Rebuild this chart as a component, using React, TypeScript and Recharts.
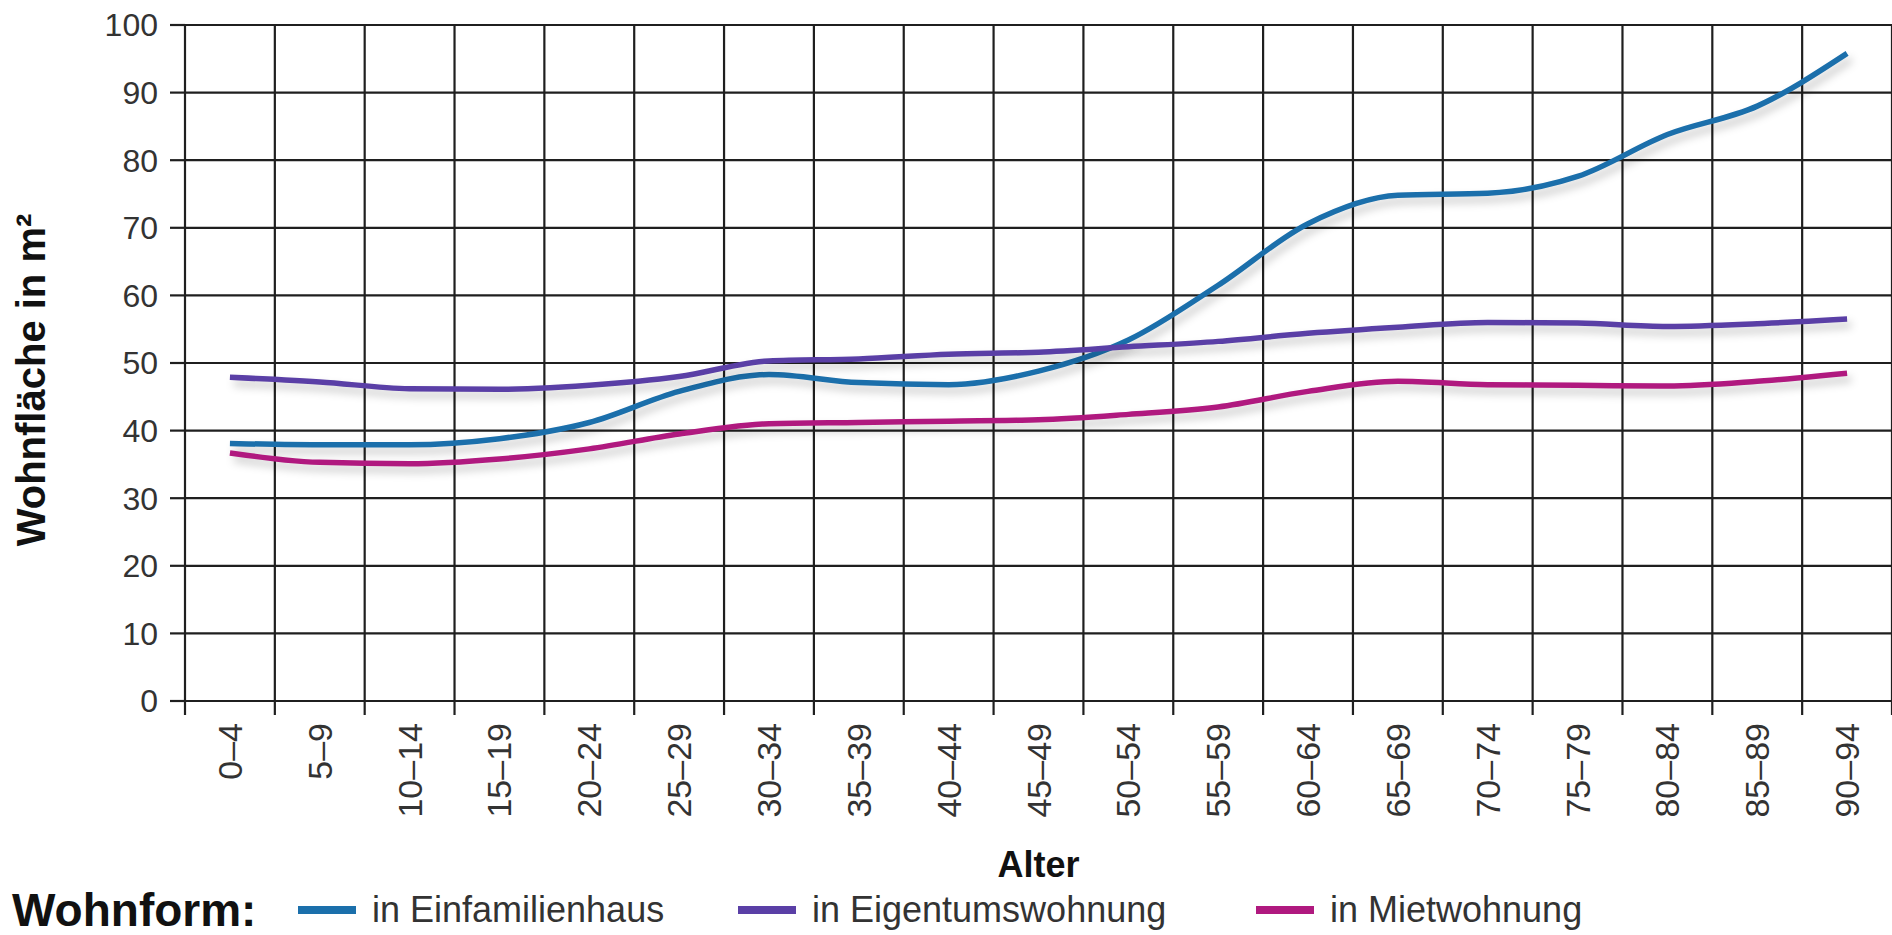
import React from "react";
import { LineChart, Line, XAxis, YAxis, CartesianGrid, Legend, Label } from "recharts";

// Wohnfläche pro Kopf nach Alter und Wohnform (m²)
const AGES = [
  "0–4", "5–9", "10–14", "15–19", "20–24", "25–29", "30–34", "35–39", "40–44", "45–49",
  "50–54", "55–59", "60–64", "65–69", "70–74", "75–79", "80–84", "85–89", "90–94",
];
const EINFAMILIENHAUS = [38.1, 37.9, 37.9, 38.8, 41.2, 45.8, 48.3, 47.1, 46.8, 48.8, 53.4, 61.5, 70.6, 74.8, 75.1, 77.6, 83.8, 88, 95.8];
const EIGENTUMSWOHNUNG = [47.9, 47.2, 46.2, 46.1, 46.7, 48, 50.3, 50.6, 51.3, 51.6, 52.4, 53.2, 54.4, 55.3, 56, 55.9, 55.4, 55.8, 56.5];
const MIETWOHNUNG = [36.7, 35.3, 35.1, 35.8, 37.3, 39.5, 41, 41.2, 41.4, 41.6, 42.4, 43.5, 45.8, 47.3, 46.8, 46.7, 46.6, 47.3, 48.5];
const Y_TICKS = [0, 10, 20, 30, 40, 50, 60, 70, 80, 90, 100];

const SERIES = [
  { key: "efh", name: "in Einfamilienhaus", color: "#1b6fab", values: EINFAMILIENHAUS },
  { key: "etw", name: "in Eigentumswohnung", color: "#5a3fa6", values: EIGENTUMSWOHNUNG },
  { key: "mw", name: "in Mietwohnung", color: "#b0197f", values: MIETWOHNUNG },
];

const data = AGES.map((age, i) => ({
  age,
  pos: i + 0.5,
  efh: EINFAMILIENHAUS[i],
  etw: EIGENTUMSWOHNUNG[i],
  mw: MIETWOHNUNG[i],
}));

const CHART_W = 1892;
const CHART_H = 935;
const Y_AXIS_W = 185;
const COL_W = (CHART_W - Y_AXIS_W) / AGES.length;
const FONT = "'Liberation Sans', Arial, Helvetica, sans-serif";
const GRID = "#1f1f1f";

function AgeTick(props: any) {
  const { x, y, payload } = props;
  const label = AGES[payload.value];
  if (!label) return null;
  const cx = x + COL_W / 2;
  return (
    <text
      x={cx}
      y={y}
      transform={`rotate(-90, ${cx}, ${y})`}
      textAnchor="end"
      dominantBaseline="central"
      fontSize={34}
      fontFamily={FONT}
      fill="#333"
    >
      {label}
    </text>
  );
}

function YTitle(props: any) {
  const { viewBox } = props;
  const cx = 31;
  const cy = viewBox.y + viewBox.height / 2 + 17;
  return (
    <text
      x={cx}
      y={cy}
      transform={`rotate(-90, ${cx}, ${cy})`}
      textAnchor="middle"
      dominantBaseline="central"
      fontSize={40}
      fontWeight="bold"
      fontFamily={FONT}
      fill="#111"
    >
      Wohnfläche in m²
    </text>
  );
}

const ITEM_WIDTHS = [440, 518, 420];

function WohnformLegend() {
  return (
    <div style={{ display: "flex", alignItems: "center", height: 50, fontFamily: FONT }}>
      <span style={{ fontSize: 46, fontWeight: "bold", color: "#111", marginLeft: 12, width: 286 }}>Wohnform:</span>
      {SERIES.map((s, i) => (
        <span key={s.key} style={{ display: "flex", alignItems: "center", width: ITEM_WIDTHS[i] }}>
          <span style={{ display: "inline-block", width: 58, height: 8, background: s.color, marginRight: 16 }} />
          <span style={{ fontSize: 36, color: "#333" }}>{s.name}</span>
        </span>
      ))}
    </div>
  );
}

export default function App() {
  return (
    <div style={{ position: "absolute", left: 0, top: 0, background: "#fff" }}>
      <LineChart width={CHART_W} height={CHART_H} data={data} margin={{ top: 25, right: 0, bottom: 0, left: 0 }}>
        <CartesianGrid stroke={GRID} strokeWidth={2.2} />
        <XAxis
          dataKey="pos"
          type="number"
          domain={[0, AGES.length]}
          ticks={AGES.map((_, i) => i).concat(AGES.length)}
          interval={0}
          height={184}
          tickSize={14}
          tickMargin={8}
          tick={<AgeTick />}
          tickLine={{ stroke: GRID, strokeWidth: 2.2 }}
          axisLine={{ stroke: GRID, strokeWidth: 2.2 }}
        >
          <Label
            value="Alter"
            position="insideBottom"
            offset={8}
            style={{ fontSize: 36, fontWeight: "bold", fontFamily: FONT, fill: "#111" }}
          />
        </XAxis>
        <YAxis
          type="number"
          domain={[0, 100]}
          ticks={Y_TICKS}
          width={Y_AXIS_W}
          tickSize={15}
          tickMargin={12}
          axisLine={false}
          tickLine={{ stroke: GRID, strokeWidth: 2.2 }}
          tick={{ fontSize: 32, fontFamily: FONT, fill: "#333" }}
        >
          <Label content={<YTitle />} />
        </YAxis>
        <Legend verticalAlign="bottom" content={<WohnformLegend />} wrapperStyle={{ left: 0, width: CHART_W, bottom: 0 }} />
        {SERIES.map((s) => (
          <Line
            key={s.key}
            dataKey={s.key}
            name={s.name}
            type="monotone"
            stroke={s.color}
            strokeWidth={5.5}
            dot={false}
            activeDot={false}
            isAnimationActive={false}
            style={{ filter: "drop-shadow(4px 6px 4px rgba(0,0,0,0.22))" }}
          />
        ))}
      </LineChart>
    </div>
  );
}
